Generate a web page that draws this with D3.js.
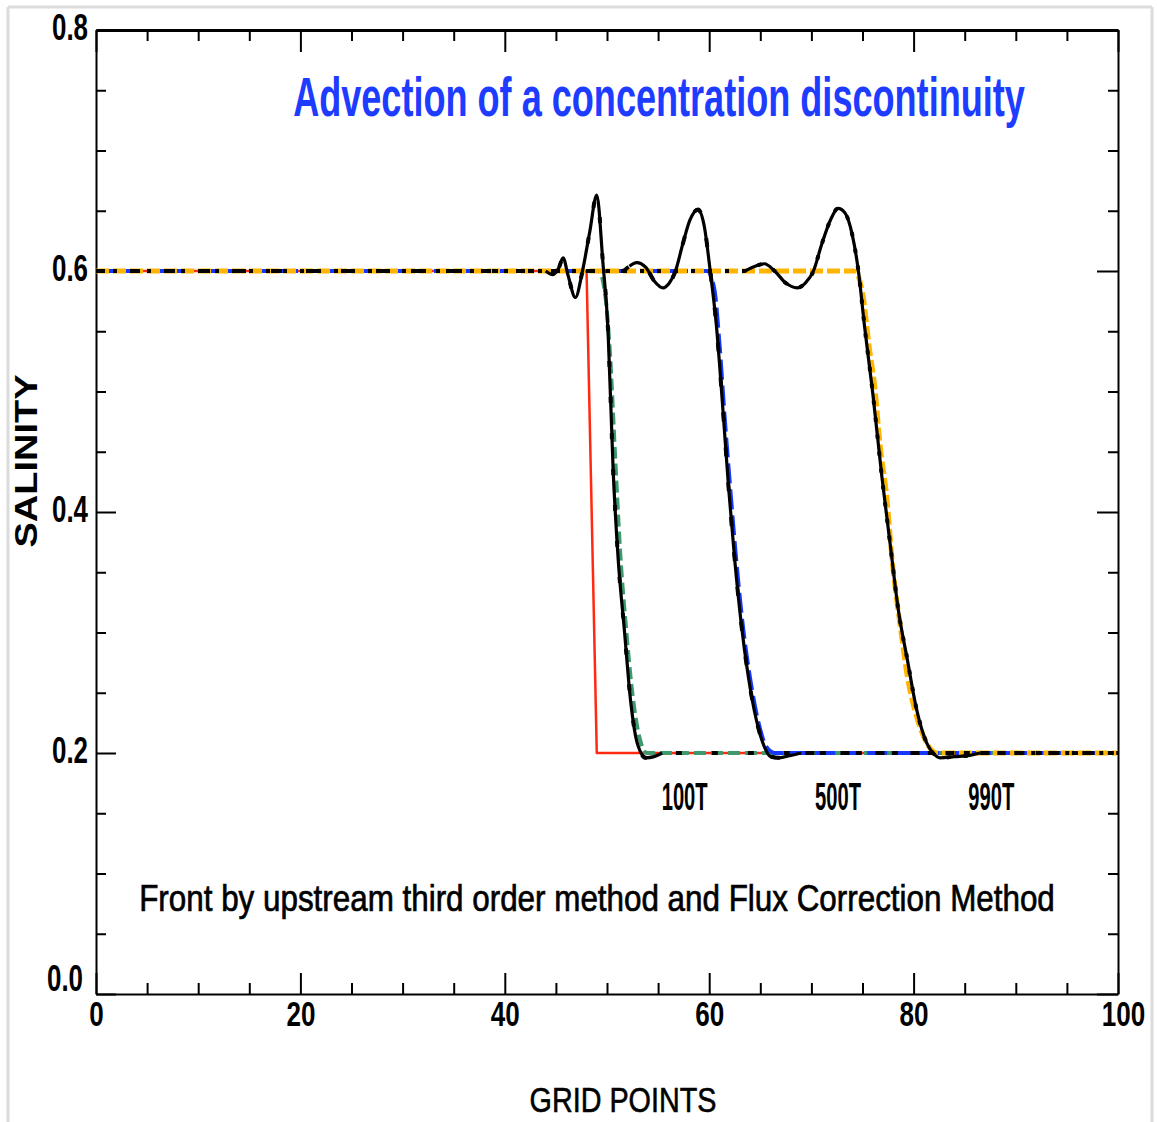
<!DOCTYPE html>
<html>
<head>
<meta charset="utf-8">
<script src="https://cdn.jsdelivr.net/npm/d3@7"></script>
<style>
  body { margin: 0; background: #fff; }
  svg { display: block; }
  text { font-family: "Liberation Sans", Arial, sans-serif; }
</style>
</head>
<body>
<svg id="chart" width="1157" height="1122"></svg>
<script>
// tick values
const xTicks = d3.range(0, 101, 5);
const yTicks = d3.range(0, 17).map(i => +(i * 0.05).toFixed(2));

// initial step (red)
const initial = [[0, 0.6], [48, 0.6], [49, 0.2], [100, 0.2]];

// flux correction method, 100T / 500T / 990T
const fct100 = [[0, 0.6], [49.2, 0.6], [49.8, 0.582], [50.3, 0.53], [50.8, 0.445], [51.3, 0.365],
    [51.9, 0.3], [52.5, 0.248], [53.2, 0.212], [53.9, 0.2], [100, 0.2]];
const fct500 = [[0, 0.6], [59.8, 0.6], [60.5, 0.585], [61.0, 0.54], [61.5, 0.48], [62.1, 0.415],
    [62.7, 0.355], [63.3, 0.305], [64.0, 0.262], [64.8, 0.226], [65.6, 0.205], [66.4, 0.2], [100, 0.2]];
const fct990 = [[0, 0.6], [74.2, 0.6], [75.0, 0.582], [75.7, 0.534], [76.2, 0.504], [76.7, 0.457],
    [77.4, 0.41], [77.9, 0.36], [78.7, 0.305], [79.4, 0.263], [80.3, 0.23], [81.3, 0.208], [82.3, 0.2], [100, 0.2]];

// upstream third order method, 100T / 500T / 990T
const uts100 = [[0, 0.6], [44, 0.6], [44.7, 0.597], [45.3, 0.603], [45.7, 0.611], [46.2, 0.596],
    [46.9, 0.578], [47.6, 0.6], [48.3, 0.632], [49.0, 0.663], [49.6, 0.607], [50.1, 0.551],
    [50.6, 0.435], [51.1, 0.36], [51.7, 0.302], [52.3, 0.244], [53.0, 0.207], [53.8, 0.196],
    [54.6, 0.197], [55.4, 0.2], [100, 0.2]];
const uts500 = [[0, 0.6], [51.5, 0.6], [52.2, 0.604], [52.9, 0.607], [53.8, 0.603], [54.6, 0.592],
    [55.5, 0.586], [56.1, 0.59], [56.7, 0.6], [57.4, 0.622], [58.1, 0.642], [58.9, 0.651],
    [59.5, 0.638], [60.1, 0.6], [60.7, 0.555], [61.3, 0.49], [61.9, 0.42], [62.5, 0.36],
    [63.1, 0.31], [63.8, 0.265], [64.6, 0.228], [65.4, 0.205], [66.0, 0.197], [66.8, 0.196],
    [68.0, 0.198], [69, 0.2], [100, 0.2]];
const uts990 = [[0, 0.6], [63.5, 0.6], [64.5, 0.604], [65.4, 0.606], [66.4, 0.6], [67.5, 0.59],
    [68.6, 0.586], [69.4, 0.59], [70.2, 0.6], [71.0, 0.622], [71.9, 0.643], [72.6, 0.652],
    [73.3, 0.648], [74.0, 0.63], [74.6, 0.6], [75.2, 0.554], [76.0, 0.499], [76.9, 0.429],
    [77.7, 0.374], [78.5, 0.319], [79.4, 0.277], [80.3, 0.236], [81.3, 0.208], [81.9, 0.2],
    [82.6, 0.196], [84, 0.197], [85.5, 0.198], [86.5, 0.2], [100, 0.2]];

// where the black curves leave the plateaus
const utsRanges = [[43.5, 56], [52, 69.5], [63, 86.5]];

const stepLabels = [
    { text: '100T', x: 57.6, y: 0.153 },
    { text: '500T', x: 72.6, y: 0.153 },
    { text: '990T', x: 87.6, y: 0.153 }
];

const svg = d3.select('#chart');
const x = d3.scaleLinear().domain([0, 100]).range([96, 1118]);
const y = d3.scaleLinear().domain([0, 0.8]).range([994, 30]);

// narrow the glyphs round the anchor point, the original font is condensed
function squeeze(sel, width) {
    sel.each(function(d, i) {
        const node = d3.select(this);
        const w = this.getComputedTextLength();
        const target = typeof width === 'function' ? width(d, i) : width;
        const s = target / w;
        const ax = +node.attr('x') || 0;
        const ay = +node.attr('y') || 0;
        node.attr('transform', `translate(${ax},${ay}) scale(${s},1) translate(${-ax},${-ay})`);
    });
}

// page frame
const frame = svg.append('g').attr('fill', 'none').attr('stroke', '#dcdcdc').attr('stroke-width', 3);
frame.append('line').attr('x1', 8).attr('x2', 1152).attr('y1', 7).attr('y2', 7);
frame.append('line').attr('x1', 8).attr('x2', 8).attr('y1', 7).attr('y2', 1122);
frame.append('line').attr('x1', 1152).attr('x2', 1152).attr('y1', 7).attr('y2', 1122);

const isMajorX = d => d % 20 === 0;
const isMajorY = d => Math.round(d * 20) % 4 === 0;

// axes, ticks point inwards
const xAxisBottom = svg.append('g').attr('transform', `translate(0,${y(0)})`)
    .call(d3.axisBottom(x).tickValues(xTicks).tickSizeInner(-11).tickSizeOuter(0).tickPadding(6)
        .tickFormat(d => isMajorX(d) ? d : ''));
xAxisBottom.selectAll('.tick line').attr('y2', d => isMajorX(d) ? -21 : -11);

const xAxisTop = svg.append('g').attr('transform', `translate(0,${y(0.8)})`)
    .call(d3.axisTop(x).tickValues(xTicks).tickSizeInner(-11).tickSizeOuter(0).tickFormat(''));
xAxisTop.selectAll('.tick line').attr('y2', d => isMajorX(d) ? 22 : 11);

const yAxisLeft = svg.append('g').attr('transform', `translate(${x(0)},0)`)
    .call(d3.axisLeft(y).tickValues(yTicks).tickSizeInner(-10).tickSizeOuter(0).tickPadding(8)
        .tickFormat(d => isMajorY(d) ? d3.format('.1f')(d) : ''));
yAxisLeft.selectAll('.tick line').attr('x2', d => isMajorY(d) ? 20 : 10);

const yAxisRight = svg.append('g').attr('transform', `translate(${x(100)},0)`)
    .call(d3.axisRight(y).tickValues(yTicks).tickSizeInner(-10).tickSizeOuter(0).tickFormat(''));
yAxisRight.selectAll('.tick line').attr('x2', d => isMajorY(d) ? -21 : -10);

svg.selectAll('.domain').attr('stroke', '#000').attr('stroke-width', 2);
xAxisTop.select('.domain').attr('stroke-width', 3);
svg.selectAll('.tick line').attr('stroke', '#000').attr('stroke-width', 2);

xAxisBottom.selectAll('.tick text')
    .attr('font-size', 36).attr('font-weight', 'bold').attr('fill', '#000').attr('dy', '0.72em')
    .attr('x', d => d === 100 ? 5 : 0)
    .call(squeeze, d => String(d).length * 14.5);
yAxisLeft.selectAll('.tick text')
    .attr('font-size', 36).attr('font-weight', 'bold').attr('fill', '#000')
    .attr('dy', d => d === 0 ? '-0.1em' : '0.25em')
    .attr('x', d => d === 0 ? -13 : -8)
    .call(squeeze, 36);

// curves
const line = d3.line().x(d => x(d[0])).y(d => y(d[1])).curve(d3.curveMonotoneX);
const plot = svg.append('g').attr('fill', 'none').attr('stroke-linejoin', 'round');

plot.append('path').datum(initial)
    .attr('d', d3.line().x(d => x(d[0])).y(d => y(d[1])))
    .attr('stroke', '#ff2a10').attr('stroke-width', 2.5);

plot.append('path').datum(fct100).attr('d', line)
    .attr('stroke', '#3c9a6c').attr('stroke-width', 4).attr('stroke-dasharray', '12,5');
plot.append('path').datum(fct500).attr('d', line)
    .attr('stroke', '#1438ff').attr('stroke-width', 4).attr('stroke-dasharray', '20,6');
plot.append('path').datum(fct990).attr('d', line)
    .attr('stroke', '#ffb400').attr('stroke-width', 5).attr('stroke-dasharray', '13,4');

const uts = [uts100, uts500, uts990];
const dashes = ['6,30', '9,26', '4,13'];

uts.forEach((d, i) => {
    plot.append('path').datum(d).attr('d', line)
        .attr('stroke', '#000').attr('stroke-width', 4)
        .attr('stroke-dasharray', dashes[i]);
});
uts.forEach((d, i) => {
    const [a, b] = utsRanges[i];
    plot.append('path').datum(d.filter(p => p[0] >= a && p[0] <= b)).attr('d', line)
        .attr('stroke', '#000').attr('stroke-width', 3.2);
});

// labels
svg.selectAll('.step-label').data(stepLabels).enter().append('text')
    .attr('class', 'step-label')
    .attr('x', d => x(d.x)).attr('y', d => y(d.y))
    .attr('text-anchor', 'middle').attr('font-size', 38).attr('font-weight', 'bold')
    .call(squeeze, 46);

svg.selectAll('.step-label').text(d => d.text).call(squeeze, 46);

svg.append('text')
    .attr('x', 659).attr('y', 116).attr('text-anchor', 'middle')
    .attr('font-size', 55).attr('font-weight', 'bold').attr('fill', '#1e3cff')
    .text('Advection of a concentration discontinuity')
    .call(squeeze, 732);

svg.append('text')
    .attr('x', 597).attr('y', 911).attr('text-anchor', 'middle')
    .attr('font-size', 37).attr('stroke', '#000').attr('stroke-width', 0.7)
    .text('Front by upstream third order method and Flux Correction Method')
    .call(squeeze, 916);

const yTitle = svg.append('text')
    .attr('text-anchor', 'middle')
    .attr('font-size', 31).attr('font-weight', 'bold')
    .text('SALINITY');
yTitle.attr('transform', `translate(37,461) rotate(-90) scale(${173 / yTitle.node().getComputedTextLength()},1)`);

svg.append('text')
    .attr('x', 623).attr('y', 1112).attr('text-anchor', 'middle')
    .attr('font-size', 35).attr('stroke', '#000').attr('stroke-width', 0.6)
    .text('GRID POINTS')
    .call(squeeze, 187);
</script>
</body>
</html>
